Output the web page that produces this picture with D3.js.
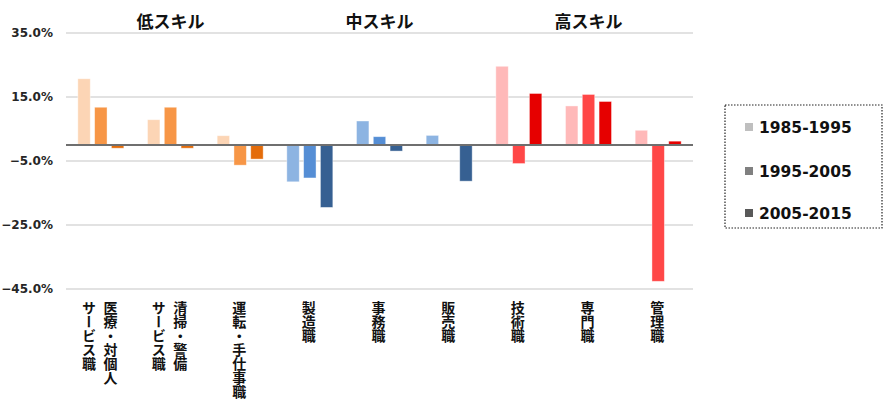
<!DOCTYPE html>
<html><head><meta charset="utf-8">
<script src="https://cdn.jsdelivr.net/npm/d3@7"></script>
<style>
html,body{margin:0;padding:0;background:#fff;}
svg{display:block;font-family:"Noto Sans CJK JP","Noto Sans",sans-serif;}
</style></head>
<body><svg id="c" width="890" height="408"></svg>
<script>
const categories = ["医療・対個人\nサービス職","清掃・警備\nサービス職","運転・手仕事職","製造職","事務職","販売職","技術職","専門職","管理職"];
const skillGroups = ["低スキル","中スキル","高スキル"];
const series = ["1985-1995","1995-2005","2005-2015"];
const v1985 = [20.7, 7.9, 2.9, -11.5, 7.5, 3.0, 24.6, 12.2, 4.6];
const v1995 = [11.8, 11.8, -6.3, -10.3, 2.6, -0.3, -5.8, 15.8, -42.6];
const v2005 = [-1.0, -1.0, -4.4, -19.5, -1.9, -11.3, 16.1, 13.6, 1.2];
const yTicks = [35, 15, -5, -25, -45];
const groupColors = [
  ["#FCD5B5","#F79646","#E46C0A"],
  ["#8DB4E2","#558ED5","#366092"],
  ["#FFB9B9","#FF4747","#E60000"]
];
const legendColors = ["#BFBFBF","#808080","#595959"];

const svg = d3.select("#c");
const x0 = 66, x1 = 693;
const x = d3.scaleBand().domain(d3.range(categories.length)).range([x0, x1]).paddingInner(0).paddingOuter(0);
const y = d3.scaleLinear().domain([-45, 35]).range([289, 33]);
const xs = d3.scaleBand().domain(d3.range(3)).range([0, 46]).paddingInner(0.26);

// grid
svg.append("g").selectAll("line").data(yTicks).join("line")
  .attr("x1", x0).attr("x2", x1).attr("y1", d => y(d)).attr("y2", d => y(d))
  .attr("stroke", "#D9D9D9").attr("stroke-width", 1.3);

// y labels
svg.append("g").selectAll("text").data(yTicks).join("text")
  .attr("x", 53).attr("y", d => y(d)).attr("dy", "0.36em")
  .attr("text-anchor", "end").attr("font-size", 12).attr("font-weight", "bold").attr("fill", "#262626")
  .attr("font-family", "'DejaVu Sans', sans-serif")
  .text(d => d3.format(".1f")(d) + "%");

// bars
const vals = [v1985, v1995, v2005];
categories.forEach((c, i) => {
  const g = Math.floor(i / 3);
  const cx = x(i) + x.bandwidth() / 2 - 23;
  vals.forEach((arr, s) => {
    const v = arr[i];
    svg.append("rect")
      .attr("x", cx + xs(s)).attr("width", xs.bandwidth())
      .attr("y", y(Math.max(0, v))).attr("height", Math.abs(y(v) - y(0)))
      .attr("fill", groupColors[g][s]).attr("stroke", "#fff").attr("stroke-opacity", 0.5).attr("stroke-width", 0.8);
  });
});

// zero line
svg.append("line").attr("x1", x0).attr("x2", x1).attr("y1", y(0)).attr("y2", y(0))
  .attr("stroke", "#6f6f6f").attr("stroke-width", 1.8);

// group labels
skillGroups.forEach((t, g) => {
  const cx = (x(g * 3) + x(g * 3 + 2) + x.bandwidth()) / 2;
  svg.append("text").attr("x", cx).attr("y", 28).attr("text-anchor", "middle")
    .attr("font-size", 17).attr("font-weight", "bold").attr("fill", "#111").text(t);
});

// category labels (vertical)
categories.forEach((c, i) => {
  const lines = c.split("\n");
  const cx = x(i) + x.bandwidth() / 2;
  const n = lines.length;
  lines.forEach((ln, k) => {
    const colX = cx + ((n - 1) / 2 - k) * 21.5 - 1;
    svg.append("text").attr("x", colX).attr("y", 301)
      .attr("style", "writing-mode: vertical-rl;")
      .attr("font-size", 14).attr("font-weight", "bold").attr("fill", "#111")
      .text(ln);
  });
});

// legend
svg.append("rect").attr("x", 725).attr("y", 105).attr("width", 157).attr("height", 123)
  .attr("fill", "none").attr("stroke", "#222").attr("stroke-width", 1.2).attr("stroke-dasharray", "1.5,1.5");
const ly = [127, 171, 213];
series.forEach((s, k) => {
  svg.append("rect").attr("x", 745).attr("y", ly[k] - 4).attr("width", 8).attr("height", 8).attr("fill", legendColors[k]);
  svg.append("text").attr("x", 759).attr("y", ly[k]).attr("dy", "0.36em")
    .attr("font-family", "'DejaVu Sans', sans-serif")
    .attr("font-size", 15.5).attr("font-weight", "bold").attr("fill", "#111").text(s);
});
</script></body></html>
